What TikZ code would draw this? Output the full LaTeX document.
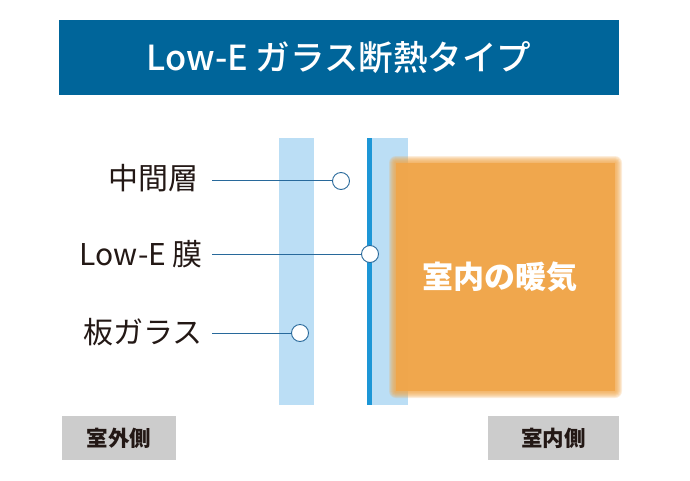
\documentclass[tikz,border=0pt]{standalone}
\usepackage{fontspec}
\setmainfont{Noto Sans CJK JP}
\newfontfamily\titlefont{Noto Sans CJK JP Medium}
\usetikzlibrary{positioning,shapes}

\definecolor{bannerblue}{RGB}{0,101,154}
\definecolor{paneblue}{RGB}{187,222,245}
\definecolor{filmblue}{RGB}{28,150,214}
\definecolor{leadblue}{RGB}{40,105,155}
\definecolor{warmorange}{RGB}{240,166,74}
\definecolor{sidegray}{RGB}{204,204,204}
\definecolor{inktext}{RGB}{35,24,21}

\tikzset{
  partlabel/.style={anchor=east,inner sep=0pt,text=inktext,font=\fontsize{30}{34}\selectfont},
  marker/.style={circle,draw=leadblue,fill=white,line width=0.9pt,minimum size=17pt,inner sep=0pt},
  leader/.style={draw=leadblue,line width=0.9pt},
  sidebox/.style={rectangle,fill=sidegray,text=inktext,font=\fontsize{21.5}{24}\selectfont\bfseries,minimum height=44pt,inner sep=0pt}
}

\begin{document}
\begin{tikzpicture}[x=1pt,y=-1pt]
\useasboundingbox (0,0) rectangle (690,480);

% title
\node [rectangle,fill=bannerblue,minimum width=560pt,minimum height=75pt,inner sep=0pt,text=white,
       font=\fontsize{34.5}{40}\titlefont] (title) at (339,57.5) {Low-E ガラス断熱タイプ};

% glass panes
\fill [paneblue] (279,138) rectangle (314,405);
\fill [paneblue] (367,138) rectangle (408,405);
\fill [filmblue] (367,138) rectangle (372,405);

% warm air, soft edges
\foreach \d in {7,6,...,1}
  \fill [warmorange,opacity=0.2,rounded corners=\d pt] (396-\d,163-\d) rectangle (615+\d,391+\d);
\fill [warmorange,opacity=0.93] (396,163) rectangle (615,391);
\node [text=white,font=\fontsize{31}{34}\selectfont\bfseries] (warm) at (500,277) {室内の暖気};

% labels and markers
\node [partlabel] (gap) at (199,178) {中間層};
\node [partlabel] (film) at (203,254) {Low-E 膜};
\node [partlabel] (pane) at (203,332) {板ガラス};

\node [marker] (gapmark) at (341,181) {};
\node [marker] (filmmark) at (370,254) {};
\node [marker] (panemark) at (300,333) {};

\draw [leader] (212,180) coordinate (gapfoot) -- (gapfoot -| gapmark.west);
\draw [leader] (212,254) coordinate (filmfoot) -- (filmmark.west);
\draw [leader] (212,333) coordinate (panefoot) -- (panemark.west);

% sides
\node [sidebox,minimum width=114pt] (outside) at (119,438) {室外側};
\node [sidebox,minimum width=131pt] (inside) at (553.5,438) {室内側};
\end{tikzpicture}
\end{document}
